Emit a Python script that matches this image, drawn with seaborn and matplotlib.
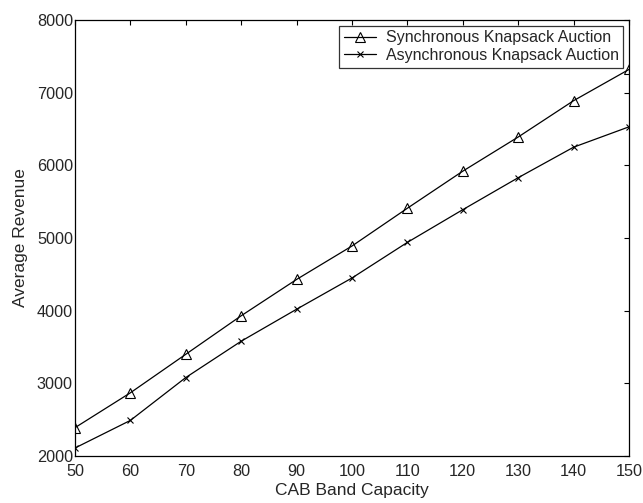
import numpy as np
import pandas as pd
import matplotlib
matplotlib.use("Agg")
import matplotlib.pyplot as plt
import seaborn as sns
from matplotlib.lines import Line2D

# data
capacity = [50, 60, 70, 80, 90, 100, 110, 120, 130, 140, 150]
sync_revenue = [2390, 2870, 3400, 3930, 4430, 4890, 5410, 5920, 6390, 6890, 7320]
async_revenue = [2110, 2490, 3080, 3580, 4020, 4450, 4940, 5390, 5830, 6250, 6530]
series_names = ["Synchronous Knapsack Auction", "Asynchronous Knapsack Auction"]
x_ticks = [50, 60, 70, 80, 90, 100, 110, 120, 130, 140, 150]
y_ticks = [2000, 3000, 4000, 5000, 6000, 7000, 8000]

sns.set_theme(style="white")
plt.rcParams["font.family"] = ["Liberation Sans", "DejaVu Sans"]
plt.rcParams["xtick.direction"] = "in"
plt.rcParams["ytick.direction"] = "in"

fig = plt.figure(figsize=(6.43, 5.03), dpi=100)
ax = fig.add_axes([0.1166, 0.0934, 0.8616, 0.8668])

# synchronous: open triangles
sns.lineplot(x=capacity, y=sync_revenue, ax=ax, color="black", linewidth=0.9,
             marker="^", markersize=6.5, markerfacecolor="none",
             markeredgecolor="black", markeredgewidth=0.8)
# asynchronous: x markers
sns.lineplot(x=capacity, y=async_revenue, ax=ax, color="black", linewidth=0.9,
             marker="x", markersize=4, markeredgecolor="black",
             markeredgewidth=0.8)

ax.set_xlim(50, 150)
ax.set_ylim(2000, 8000)
ax.set_xticks(x_ticks)
ax.set_yticks(y_ticks)
ax.tick_params(axis="both", which="both", top=True, right=True, length=3.5,
               width=0.8, color="black", labelsize=11.7)
ax.tick_params(axis="x", pad=6)
ax.tick_params(axis="y", pad=1.5)
for s in ax.spines.values():
    s.set_color("black")
    s.set_linewidth(0.9)

ax.set_xlabel("CAB Band Capacity", fontsize=12.5, labelpad=2.5)
ax.set_ylabel("Average Revenue", fontsize=12.5, labelpad=6)

handles = [
    Line2D([], [], color="black", linewidth=0.9, marker="^", markersize=6.5,
           markerfacecolor="none", markeredgewidth=0.8),
    Line2D([], [], color="black", linewidth=0.9, marker="x", markersize=4,
           markeredgewidth=0.8),
]
leg = ax.legend(handles, series_names, loc="upper right", fontsize=11.5,
                frameon=True, fancybox=False, borderaxespad=0.35,
                handlelength=2.0, handletextpad=0.6, borderpad=0.3,
                labelspacing=0.15)
leg.get_frame().set_edgecolor("black")
leg.get_frame().set_linewidth(0.9)

fig.savefig("out.png", dpi=100)
